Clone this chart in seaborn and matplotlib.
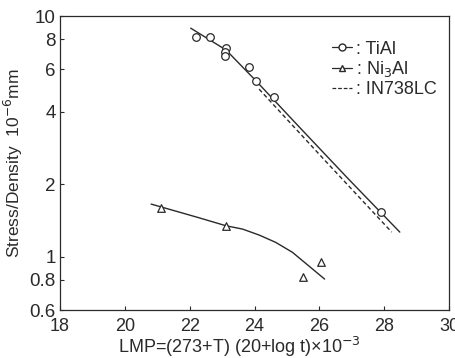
import matplotlib
matplotlib.use("Agg")
import matplotlib.pyplot as plt
import seaborn as sns
import numpy as np
import pandas as pd
from matplotlib.lines import Line2D

# TiAl data points
tial_x = [22.19, 22.63, 23.12, 23.10, 23.10, 23.84, 24.05, 24.60, 27.90]
tial_y = [8.2, 8.2, 7.36, 7.07, 6.84, 6.12, 5.36, 4.59, 1.54]
# TiAl fit curve
tial_fit_x = [22.03, 23.12, 24.05, 25.44, 26.90, 28.48]
tial_fit_y = [8.91, 7.23, 5.37, 3.39, 2.10, 1.265]
# Ni3Al data points
ni_x = [21.10, 23.12, 26.06, 25.49]
ni_y = [1.59, 1.336, 0.947, 0.82]
# Ni3Al fit curve
ni_fit_x = [20.81, 22.24, 23.12, 23.63, 24.14, 24.65, 25.17, 25.69, 26.16]
ni_fit_y = [1.654, 1.457, 1.344, 1.302, 1.230, 1.147, 1.042, 0.911, 0.807]
# IN738LC curve
in_x = [24.14, 26.16, 28.23]
in_y = [4.97, 2.52, 1.265]

xticks = [18, 20, 22, 24, 26, 28, 30]
yticks = [0.6, 0.8, 1, 2, 4, 6, 8, 10]
ytick_labels = ["0.6", "0.8", "1", "2", "4", "6", "8", "10"]

sns.set_style("ticks")
plt.rcParams['font.family'] = ['Liberation Sans', 'DejaVu Sans']

fig = plt.figure(figsize=(4.55, 3.58), dpi=100)
ax = fig.add_axes([0.132, 0.134, 0.855, 0.821])

col = "#2a2a2a"
sns.lineplot(x=tial_fit_x, y=tial_fit_y, ax=ax, color=col, lw=1.0, sort=False)
sns.lineplot(x=ni_fit_x, y=ni_fit_y, ax=ax, color=col, lw=1.0, sort=False)
sns.lineplot(x=in_x, y=in_y, ax=ax, color=col, lw=1.0, sort=False, linestyle=(0, (3, 2)))
ax.scatter(tial_x, tial_y, marker="o", s=30, facecolors="white", edgecolors=col, linewidths=0.9, zorder=3)
ax.scatter(ni_x, ni_y, marker="^", s=30, facecolors="white", edgecolors=col, linewidths=0.9, zorder=3)

ax.set_yscale("log")
ax.set_xlim(18, 30)
ax.set_ylim(0.6, 10)
ax.set_xticks(xticks)
ax.set_xticklabels([str(t) for t in xticks], fontsize=13)
ax.set_yticks(yticks)
ax.set_yticklabels(ytick_labels, fontsize=13.5)
ax.yaxis.set_minor_locator(matplotlib.ticker.NullLocator())
ax.tick_params(direction="in", length=3, width=0.8, colors=col)
ax.tick_params(axis="x", pad=6)
ax.tick_params(axis="y", pad=3)
for s in ax.spines.values():
    s.set_color(col)
    s.set_linewidth(0.9)

ax.set_xlabel("LMP=(273+T) (20+log t)×10$^{-3}$", fontsize=13, color=col, labelpad=0)
ax.xaxis.set_label_coords(0.46, -0.085)
ax.set_ylabel("Stress/Density  10$^{-6}$mm", fontsize=12.5, color=col, labelpad=3)

handles = [
    Line2D([], [], color=col, lw=0.9, marker="o", markersize=5, markerfacecolor="white"),
    Line2D([], [], color=col, lw=0.9, marker="^", markersize=5, markerfacecolor="white"),
    Line2D([], [], color=col, lw=0.9, linestyle=(0, (3, 1.5))),
]
ax.legend(handles, [": TiAl", ": Ni$_3$Al", ": IN738LC"], loc="upper right",
          bbox_to_anchor=(1.0, 0.96), frameon=False, fontsize=13, handlelength=1.1,
          handletextpad=0.2, labelspacing=0.1, borderaxespad=0.3, labelcolor=col)

fig.savefig("out.png", dpi=100)
